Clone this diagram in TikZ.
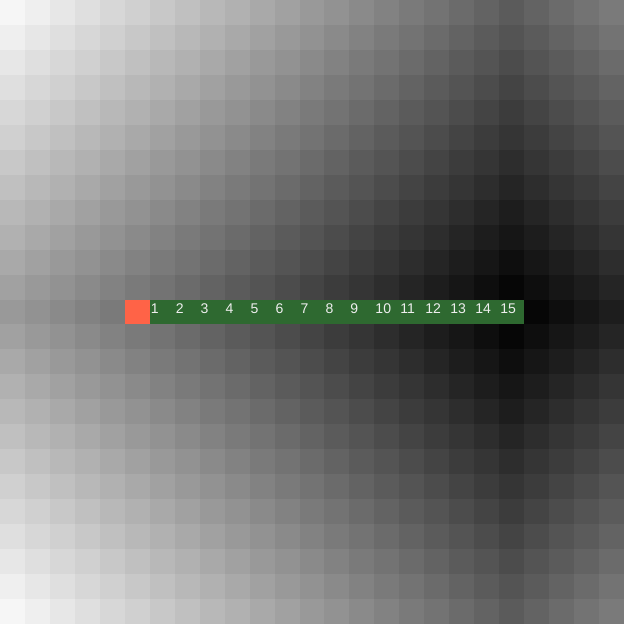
\documentclass[tikz,border=0pt]{standalone}
\usepackage{fontspec}
\newfontfamily\labelfont{Liberation Sans}
\usepackage{tikz}
\usetikzlibrary{positioning}

\definecolor{trailgreen}{HTML}{2E6930}
\definecolor{startred}{HTML}{FF6347}
\definecolor{labelwhite}{HTML}{EEEEEE}

\begin{document}
\begin{tikzpicture}[
        x=0.5cm, y=0.5cm,
        cell/.style={rectangle, minimum size=0.5cm, inner sep=0pt, outer sep=0pt, anchor=south west},
        start/.style={cell, fill=startred},
        trail/.style={cell, fill=trailgreen},
        steplabel/.style={anchor=north west, inner xsep=0.4pt, inner ysep=2pt, text=labelwhite, font=\labelfont\fontsize{8}{9}\selectfont}
    ]
    \useasboundingbox (0,0) rectangle (25,25);

    % --- 1. GRID (distance shading) ---
    \foreach \c in {0,...,24}{
        \foreach \r in {0,...,24}{
            \pgfmathsetmacro\lev{max(0,7.75*(abs(\c-20)+abs(\r-12))-1.5)/255}
            \definecolor{cellgray}{gray}{\lev}
            \node[cell, fill=cellgray] (c-\c-\r) at (\c,24-\r) {};
        }
    }

    % --- 2. START ---
    \node[start] (start) at (5,12) {};

    % --- 3. STEPS ---
    \foreach \i in {1,...,15}{
        \node[trail] (s\i) at (5+\i,12) {};
        \node[steplabel] (l\i) at (s\i.north west) {\i};
    }

\end{tikzpicture}
\end{document}
